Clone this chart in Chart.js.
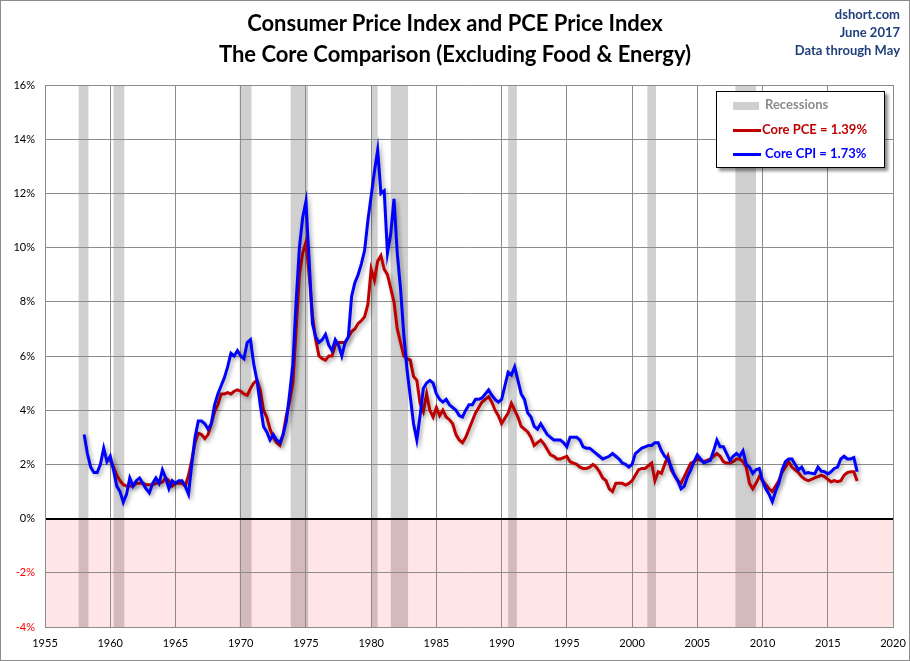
<!DOCTYPE html>
<html>
<head>
<meta charset="utf-8">
<script src="https://cdn.jsdelivr.net/npm/chart.js@4"></script>
<style>
  body { margin: 0; background: #fff; }
  #wrap { position: relative; width: 910px; height: 661px; font-family: Lato, "Open Sans", sans-serif; }
  #frame { position: absolute; left: 0; top: 0; width: 908px; height: 659px; border: 1px solid #8c8c8c; pointer-events: none; }
  .title { position: absolute; left: 0; width: 910px; text-align: center; font-weight: bold; font-size: 22px; color: #000; }
  .stamp { position: absolute; right: 10px; top: 5px; text-align: right; font-weight: bold; font-size: 13px; line-height: 18px; color: #1f3f7a; }
  #legend { position: absolute; left: 716px; top: 91px; width: 167px; height: 75px; border: 1px solid #000; background: #fff; box-shadow: 3px 3px 3px rgba(0,0,0,0.45); font-weight: bold; font-size: 13px; }
  .row { position: absolute; left: 16px; height: 16px; line-height: 16px; white-space: nowrap; }
  .sw { display: inline-block; vertical-align: middle; margin-right: 4px; }
</style>
</head>
<body>
<div id="wrap">
  <canvas id="chart" width="910" height="661"></canvas>
  <div class="title" style="top:9px">Consumer Price Index and PCE Price Index</div>
  <div class="title" style="top:40px">The Core Comparison (Excluding Food &amp; Energy)</div>
  <div class="stamp">dshort.com<br>June 2017<br>Data through May</div>
  <div id="legend">
    <div class="row" style="top:4px;color:#8c8c8c"><span class="sw" style="width:26px;height:8px;background:#d0d0d0;margin-right:6px"></span>Recessions</div>
    <div class="row" style="top:29px;color:#c00000"><span class="sw" style="width:28px;height:3px;background:#c00000;margin-right:1px"></span>Core PCE = 1.39%</div>
    <div class="row" style="top:53px;color:#0000ff"><span class="sw" style="width:28px;height:3px;background:#0000ff"></span>Core CPI = 1.73%</div>
  </div>
  <div id="frame"></div>
</div>
<script>
// quarterly readings, year-over-year %
const cpiStart = 1958;
const pceStart = 1960;
const step = 0.25;

const cpiValues = [
  3.1, 2.4, 1.9, 1.7,     // 1958
  1.7, 2.0, 2.6, 2.1,     // 1959
  2.3, 1.8, 1.2, 1.0,     // 1960
  0.6, 0.9, 1.5, 1.2,     // 1961
  1.4, 1.5, 1.3, 1.1,     // 1962
  0.95, 1.3, 1.5, 1.3,    // 1963
  1.8, 1.5, 1.1, 1.4,     // 1964
  1.3, 1.4, 1.4, 1.2,     // 1965
  0.9, 2.0, 3.0, 3.6,     // 1966
  3.6, 3.5, 3.3, 3.5,     // 1967
  4.2, 4.6, 4.9, 5.2,     // 1968
  5.6, 6.1, 6.0, 6.2,     // 1969
  6.0, 5.9, 6.5, 6.6,     // 1970
  5.7, 5.1, 4.2, 3.4,     // 1971
  3.2, 2.9, 3.1, 2.9,     // 1972
  2.8, 3.1, 3.6, 4.6,     // 1973
  5.7, 8.0, 10.0, 11.1,   // 1974
  11.7, 9.5, 7.2, 6.7,    // 1975
  6.5, 6.6, 6.8, 6.4,     // 1976
  6.2, 6.6, 6.4, 6.0,     // 1977
  6.5, 6.7, 8.2, 8.7,     // 1978
  9.0, 9.4, 9.9, 11.0,    // 1979
  11.9, 12.8, 13.6, 12.0, // 1980
  12.1, 9.8, 10.5, 11.8,  // 1981
  9.8, 8.5, 6.8, 5.5,     // 1982
  4.5, 3.5, 2.9, 3.8,     // 1983
  4.8, 5.0, 5.1, 5.0,     // 1984
  4.6, 4.4, 4.3, 4.4,     // 1985
  4.2, 4.1, 4.0, 3.8,     // 1986
  3.75, 4.0, 4.2, 4.2,    // 1987
  4.4, 4.4, 4.45, 4.6,    // 1988
  4.75, 4.55, 4.4, 4.3,   // 1989
  4.4, 4.9, 5.4, 5.3,     // 1990
  5.6, 5.1, 4.6, 4.4,     // 1991
  3.9, 3.75, 3.4, 3.3,    // 1992
  3.5, 3.3, 3.1, 3.0,     // 1993
  2.9, 2.9, 2.9, 2.8,     // 1994
  2.65, 3.0, 3.0, 3.0,    // 1995
  2.9, 2.65, 2.6, 2.6,    // 1996
  2.5, 2.4, 2.3, 2.2,     // 1997
  2.25, 2.3, 2.4, 2.3,    // 1998
  2.2, 2.05, 2.0, 1.9,    // 1999
  2.0, 2.4, 2.5, 2.6,     // 2000
  2.65, 2.7, 2.7, 2.8,    // 2001
  2.8, 2.5, 2.3, 2.2,     // 2002
  1.9, 1.6, 1.4, 1.1,     // 2003
  1.2, 1.55, 1.8, 2.1,    // 2004
  2.35, 2.2, 2.05, 2.1,   // 2005
  2.15, 2.5, 2.9, 2.65,   // 2006
  2.65, 2.4, 2.15, 2.3,   // 2007
  2.4, 2.3, 2.5, 2.0,     // 2008
  1.9, 1.67, 1.8, 1.85,   // 2009
  1.4, 1.1, 0.9, 0.62,    // 2010
  1.0, 1.3, 1.8, 2.1,     // 2011
  2.2, 2.2, 2.0, 1.8,     // 2012
  1.9, 1.67, 1.7, 1.67,   // 2013
  1.65, 1.9, 1.75, 1.73,  // 2014
  1.65, 1.73, 1.85, 1.9,  // 2015
  2.2, 2.3, 2.2, 2.2,     // 2016
  2.25, 1.73              // 2017
];

const pceValues = [
  2.15, 1.9, 1.6, 1.4,    // 1960
  1.25, 1.2, 1.2, 1.2,    // 1961
  1.3, 1.3, 1.3, 1.25,    // 1962
  1.25, 1.25, 1.3, 1.3,   // 1963
  1.35, 1.5, 1.4, 1.2,    // 1964
  1.3, 1.3, 1.3, 1.2,     // 1965
  1.6, 2.15, 2.8, 3.15,   // 1966
  3.1, 2.95, 3.1, 3.5,    // 1967
  3.95, 4.2, 4.6, 4.6,    // 1968
  4.65, 4.6, 4.7, 4.75,   // 1969
  4.7, 4.6, 4.55, 4.8,    // 1970
  5.0, 5.1, 4.75, 4.0,    // 1971
  3.75, 3.3, 3.0, 2.8,    // 1972
  2.7, 3.1, 3.8, 4.3,     // 1973
  5.0, 7.0, 9.0, 9.8,     // 1974
  10.2, 9.0, 7.5, 6.6,    // 1975
  6.0, 5.9, 5.85, 6.0,    // 1976
  6.0, 6.4, 6.5, 6.5,     // 1977
  6.5, 6.7, 6.9, 7.0,     // 1978
  7.2, 7.3, 7.45, 7.9,    // 1979
  9.2, 8.8, 9.5, 9.7,     // 1980
  9.2, 9.0, 8.5, 8.0,     // 1981
  7.0, 6.5, 6.0, 5.9,     // 1982
  5.85, 5.25, 5.1, 4.25,  // 1983
  3.95, 4.6, 4.0, 3.75,   // 1984
  4.1, 3.8, 4.0, 3.75,    // 1985
  3.65, 3.5, 3.1, 2.9,    // 1986
  2.8, 3.0, 3.3, 3.6,     // 1987
  3.9, 4.1, 4.3, 4.4,     // 1988
  4.5, 4.3, 4.0, 3.8,     // 1989
  3.5, 3.7, 3.9, 4.25,    // 1990
  4.0, 3.75, 3.4, 3.3,    // 1991
  3.2, 3.0, 2.7, 2.8,     // 1992
  2.9, 2.75, 2.55, 2.35,  // 1993
  2.3, 2.2, 2.2, 2.25,    // 1994
  2.3, 2.1, 2.05, 2.0,    // 1995
  1.9, 1.85, 1.85, 1.9,   // 1996
  2.0, 1.9, 1.73, 1.5,    // 1997
  1.4, 1.1, 1.0, 1.3,     // 1998
  1.3, 1.3, 1.24, 1.3,    // 1999
  1.4, 1.6, 1.8, 1.85,    // 2000
  1.85, 1.95, 2.05, 1.4,  // 2001
  1.73, 1.67, 2.0, 2.3,   // 2002
  1.8, 1.6, 1.4, 1.3,     // 2003
  1.55, 1.8, 2.05, 2.1,   // 2004
  2.2, 2.15, 2.1, 2.15,   // 2005
  2.2, 2.3, 2.4, 2.3,     // 2006
  2.1, 2.05, 2.05, 2.1,   // 2007
  2.2, 2.2, 2.1, 1.9,     // 2008
  1.3, 1.1, 1.3, 1.55,    // 2009
  1.4, 1.25, 1.1, 1.0,    // 2010
  1.2, 1.4, 1.7, 1.9,     // 2011
  2.1, 1.9, 1.8, 1.7,     // 2012
  1.55, 1.45, 1.4, 1.45,  // 2013
  1.5, 1.55, 1.6, 1.55,   // 2014
  1.45, 1.36, 1.4, 1.36,  // 2015
  1.4, 1.6, 1.7, 1.73,    // 2016
  1.73, 1.39              // 2017
];

// NBER recessions, start / end in decimal years
const recessionStarts = [1957.58, 1960.25, 1969.92, 1973.83, 1980.0, 1981.5, 1990.5, 2001.17, 2007.92];
const recessionEnds   = [1958.33, 1961.08, 1970.83, 1975.17, 1980.5, 1982.83, 1991.17, 2001.83, 2009.5];

const yTicks = [-4, -2, 0, 2, 4, 6, 8, 10, 12, 14, 16];
const xTicks = [1955, 1960, 1965, 1970, 1975, 1980, 1985, 1990, 1995, 2000, 2005, 2010, 2015, 2020];

const toPoints = (vals, start) => vals.map((v, i) => ({ x: start + i * step, y: v }));

// recession shading + pink area under zero, painted before the grid
const backdrop = {
  id: "backdrop",
  beforeDraw(chart) {
    const { ctx, chartArea: a, scales: { x, y } } = chart;
    ctx.save();
    ctx.fillStyle = "#d0d0d0";
    recessionStarts.forEach((s, i) => {
      const x0 = x.getPixelForValue(s);
      const x1 = x.getPixelForValue(recessionEnds[i]);
      ctx.fillRect(x0, a.top, x1 - x0, a.bottom - a.top);
    });
    const zero = y.getPixelForValue(0);
    ctx.fillStyle = "rgba(255,0,0,0.1)";
    ctx.fillRect(a.left, zero, a.right - a.left, a.bottom - zero);
    ctx.restore();
  }
};

// soft drop shadow under the lines
const lineShadow = {
  id: "lineShadow",
  beforeDatasetDraw(chart) {
    const ctx = chart.ctx;
    ctx.save();
    ctx.shadowColor = "rgba(0,0,0,0.35)";
    ctx.shadowBlur = 4;
    ctx.shadowOffsetX = 2;
    ctx.shadowOffsetY = 2;
  },
  afterDatasetDraw(chart) {
    chart.ctx.restore();
  }
};

new Chart(document.getElementById("chart"), {
  type: "line",
  data: {
    datasets: [
      {
        label: "Core CPI",
        data: toPoints(cpiValues, cpiStart),
        borderColor: "#0000ff",
        borderWidth: 3,
        pointRadius: 0,
        tension: 0
      },
      {
        label: "Core PCE",
        data: toPoints(pceValues, pceStart),
        borderColor: "#c00000",
        borderWidth: 3,
        pointRadius: 0,
        tension: 0
      }
    ]
  },
  options: {
    responsive: false,
    animation: false,
    layout: { padding: { left: 0, right: 17, top: 85, bottom: 0 } },
    plugins: { legend: { display: false }, tooltip: { enabled: false } },
    scales: {
      x: {
        type: "linear",
        min: 1955,
        max: 2020,
        afterBuildTicks: (s) => { s.ticks = xTicks.map((v) => ({ value: v })); },
        afterFit: (s) => { s.height = 34; s.paddingLeft = 0; s.paddingRight = 0; },
        ticks: {
          autoSkip: false,
          maxRotation: 0,
          padding: 10,
          color: "#000",
          font: { family: "Lato", size: 11 },
          callback: (v) => String(v)
        },
        grid: { color: "#8c8c8c", lineWidth: 1, drawTicks: false },
        border: { color: "#8c8c8c" }
      },
      y: {
        min: -4,
        max: 16,
        afterBuildTicks: (s) => { s.ticks = yTicks.map((v) => ({ value: v })); },
        afterFit: (s) => { s.width = 45; s.paddingTop = 0; s.paddingBottom = 0; },
        ticks: {
          padding: 10,
          color: (c) => (c.tick && c.tick.value < 0 ? "#ff0000" : "#000"),
          font: { family: "Lato", size: 11 },
          callback: (v) => v + "%"
        },
        grid: {
          color: (c) => (c.tick && c.tick.value === 0 ? "#000" : "#8c8c8c"),
          lineWidth: (c) => (c.tick && c.tick.value === 0 ? 2 : 1),
          drawTicks: false
        },
        border: { color: "#8c8c8c" }
      }
    }
  },
  plugins: [backdrop, lineShadow]
});
</script>
</body>
</html>
